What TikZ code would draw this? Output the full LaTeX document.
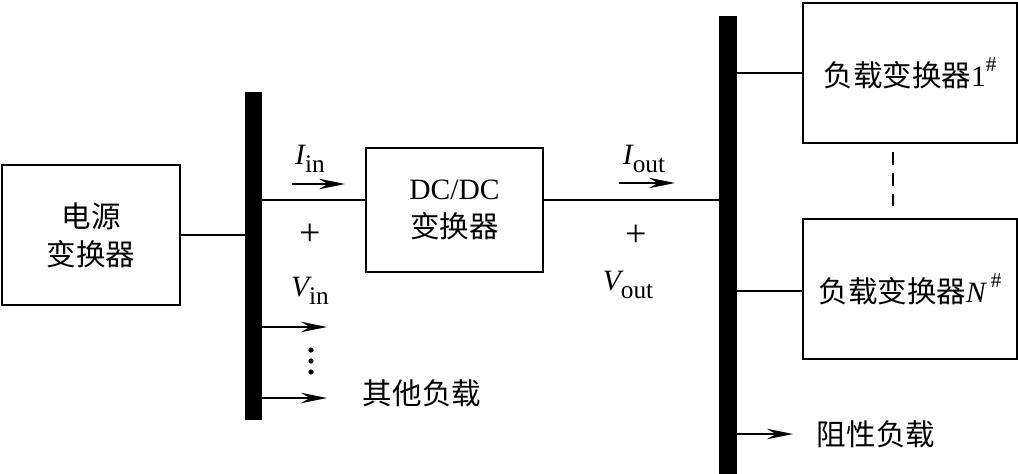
\documentclass[tikz,border=0pt]{standalone}
\usepackage{fontspec}
\usepackage{tikz}
\usetikzlibrary{arrows.meta}
\setmainfont{Liberation Serif}
\newfontfamily\cjk{Noto Sans CJK SC}
\definecolor{DiaInk}{HTML}{000000}
\newcommand{\lowsub}[1]{\raisebox{-0.28em}{\fontsize{18}{20}\selectfont #1}}
\newcommand{\highsup}[1]{\raisebox{0.5em}{\fontsize{15}{17}\selectfont #1}}

\begin{document}
\begin{tikzpicture}[x=1cm,y=1cm,
  font=\fontsize{21}{27}\selectfont,
  blockbox/.style={draw=DiaInk,line width=2pt,align=center,inner sep=0pt},
  busbar/.style={fill=DiaInk,inner sep=0pt,outer sep=0pt,minimum width=0.44cm},
  wire/.style={DiaInk,line width=1.3pt},
  sign/.style={font=\fontsize{27}{30}\selectfont},
  flow/.style={wire,-{Stealth[length=0.65cm,width=0.26cm,inset=0.22cm]}}]
\path[use as bounding box] (0,0) rectangle (25.45,11.825);
% blocks
\node[blockbox,minimum width=4.45cm,minimum height=3.5cm] (src) at (2.275,5.95) {{\cjk 电源}\\{\cjk 变换器}};
\node[blockbox,minimum width=4.425cm,minimum height=3.1cm] (dcdc) at (11.3625,6.575) {DC/DC\\{\cjk 变换器}};
\node[blockbox,minimum width=5.35cm,minimum height=3.5cm] (load1) at (22.75,10.0) {{\cjk 负载变换器}1\highsup{\#}};
\node[blockbox,minimum width=5.35cm,minimum height=3.5cm] (loadN) at (22.75,4.6) {{\cjk 负载变换器}{\itshape N}\,\highsup{\#}};
% buses
\node[busbar,minimum height=8.2cm] (busin) at (6.3375,5.425) {};
\node[busbar,minimum height=11.45cm] (busout) at (18.2,5.7) {};
% wires
\draw[wire] (src.east) -- (src.east -| busin.west);
\draw[wire] ([yshift=0.25cm]dcdc.west) -- ([yshift=0.25cm]dcdc.west -| busin.east);
\draw[wire] ([yshift=0.25cm]dcdc.east) -- ([yshift=0.25cm]dcdc.east -| busout.west);
\draw[wire] (load1.west) -- (load1.west -| busout.east);
\draw[wire] ([yshift=-0.05cm]loadN.west) -- ([yshift=-0.05cm]loadN.west -| busout.east);
\draw[wire,dashed,dash pattern=on 0.33cm off 0.2cm,shorten <=0.18cm,shorten >=0.3cm]
  ([xshift=-0.425cm]load1.south) -- ([xshift=-0.425cm]loadN.north);
% other loads
\coordinate (oth1) at (8.175,3.65);
\coordinate (oth2) at (8.175,1.875);
\coordinate (res) at (19.825,0.975);
\draw[flow] (oth1 -| busin.east) -- (oth1);
\draw[flow] (oth2 -| busin.east) -- (oth2);
\draw[flow] (res -| busout.east) -- (res);
\foreach \dy in {-0.275,0,0.275}
  \fill[DiaInk] (7.775,2.8+\dy) circle (0.065);
\node[anchor=west] (othtxt) at (8.95,2.0) {\cjk 其他负载};
\node[anchor=west] (restxt) at (20.3,0.975) {\cjk 阻性负载};
% input side labels
\draw[flow] (7.3,7.225) -- (8.625,7.225);
\node (iin) at (7.75,7.85) {{\itshape I}\lowsub{in}};
\node[sign] (pin) at (7.75,5.95) {+};
\node (vin) at (7.75,4.55) {{\itshape V}\lowsub{in}};
% output side labels
\draw[flow] (15.475,7.25) -- (16.875,7.25);
\node (iout) at (16.1,7.85) {{\itshape I}\lowsub{out}};
\node[sign] (pout) at (15.9,5.925) {+};
\node (vout) at (15.7,4.7) {{\itshape V}\lowsub{out}};
\end{tikzpicture}
\end{document}
